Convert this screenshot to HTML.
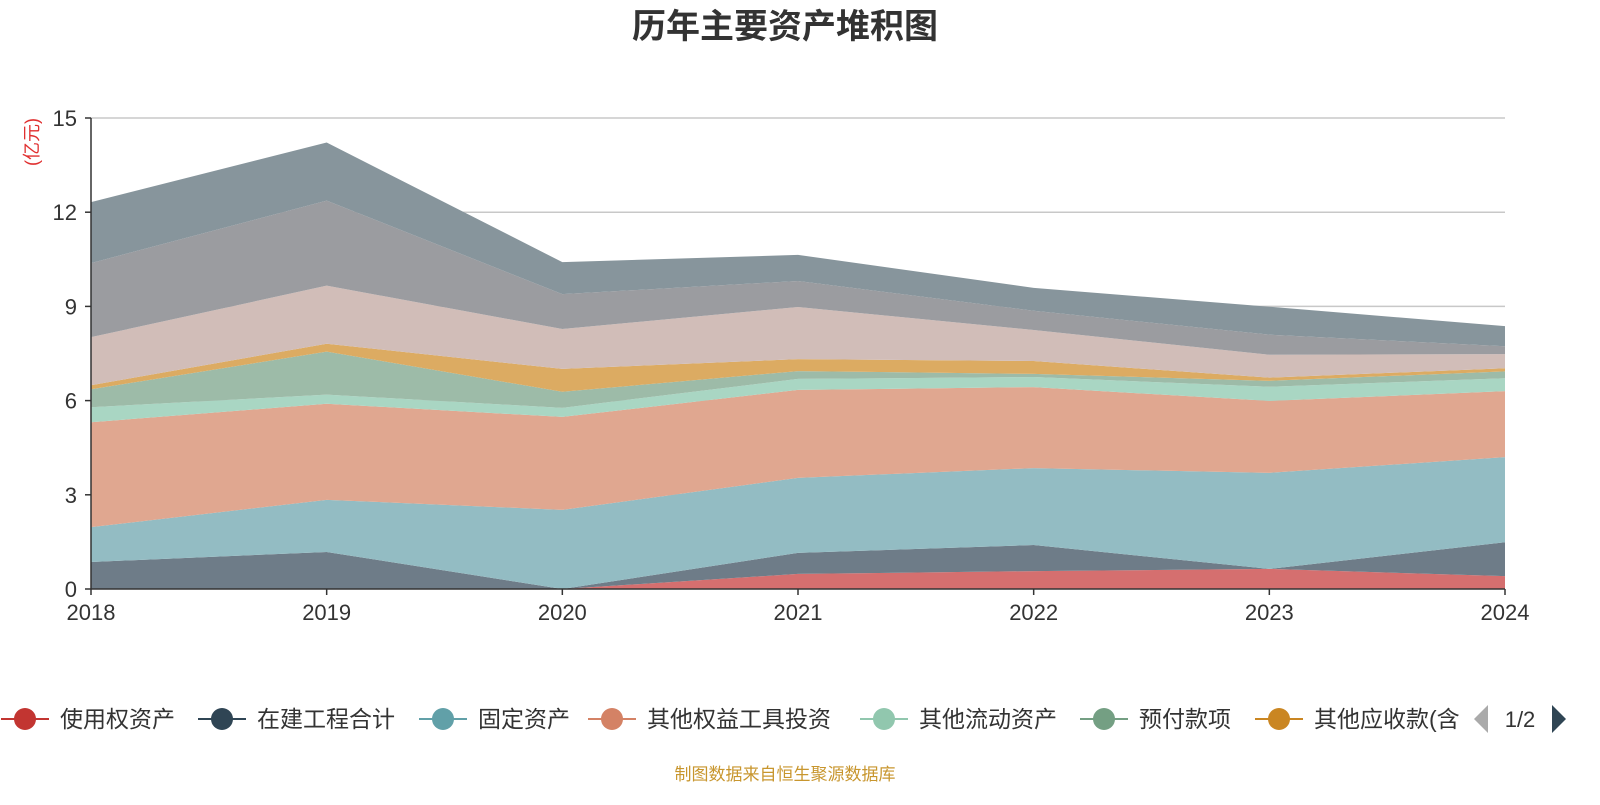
<!DOCTYPE html>
<html><head><meta charset="utf-8"><style>
body{margin:0;background:#fff;width:1600px;height:800px;overflow:hidden;font-family:"Liberation Sans","Noto Sans CJK SC",sans-serif}
</style></head><body>
<svg id="c" width="1600" height="800" xmlns="http://www.w3.org/2000/svg">
<text x="785" y="38" text-anchor="middle" font-size="34" font-weight="bold" fill="#333" font-family="Liberation Sans, Noto Sans CJK SC, sans-serif">历年主要资产堆积图</text>
<text transform="translate(38,142) rotate(-90)" text-anchor="middle" font-size="18" fill="#e03030" font-family="Liberation Sans, Noto Sans CJK SC, sans-serif">(亿元)</text>
<g id="grid"></g><g id="areas"></g><g id="axes"></g><g id="legend"></g>
<text x="785" y="780" text-anchor="middle" font-size="17" fill="#c8962e" font-family="Liberation Sans, Noto Sans CJK SC, sans-serif">制图数据来自恒生聚源数据库</text>
</svg>
<script>
const years=["2018","2019","2020","2021","2022","2023","2024"];
const yTicks=[0,3,6,9,12,15];
const s1=[0,0,0,0.48,0.57,0.64,0.41];
const s2=[0.86,1.18,0,0.67,0.83,0,1.08];
const s3=[1.11,1.66,2.52,2.39,2.45,3.06,2.71];
const s4=[3.34,3.06,2.96,2.80,2.58,2.29,2.10];
const s5=[0.48,0.29,0.29,0.35,0.32,0.45,0.41];
const s6=[0.57,1.37,0.51,0.25,0.10,0.19,0.22];
const s7=[0.13,0.25,0.73,0.38,0.41,0.10,0.10];
const s8=[1.53,1.85,1.27,1.66,0.99,0.73,0.45];
const s9=[2.36,2.71,1.11,0.83,0.61,0.64,0.25];
const s10=[1.94,1.85,1.02,0.83,0.73,0.89,0.64];
const names=["使用权资产","在建工程合计","固定资产","其他权益工具投资","其他流动资产","预付款项","其他应收款(含"];
const series=[s1,s2,s3,s4,s5,s6,s7,s8,s9,s10];
const fills=["#d56f6f","#6e7c88","#93bcc3","#e0a790","#a9d6c3","#9dbba8","#dcab62","#d1bdb8","#9b9ca0","#87959c"];
const legendColors=["#c23531","#2f4554","#61a0a8","#d48265","#91c7ae","#749f83","#ca8622"];
const NS="http://www.w3.org/2000/svg";
const x0=91,x1=1505,yb=589,yt=118,ymax=15;
const X=i=>x0+(x1-x0)*i/(years.length-1);
const Y=v=>yb-(yb-yt)*v/ymax;
function mk(t,a,p){const e=document.createElementNS(NS,t);for(const k in a)e.setAttribute(k,a[k]);p.appendChild(e);return e;}
const g=document.getElementById('grid'),ar=document.getElementById('areas'),ax=document.getElementById('axes'),lg=document.getElementById('legend');
yTicks.forEach(t=>{
 if(t>0){const l=mk('line',{x1:x0,x2:x1,y1:Y(t),y2:Y(t),stroke:'#c8c8c8','stroke-width':1.5},g);
 
 }
 const tx=mk('text',{x:x0-14,y:Y(t)+8,'text-anchor':'end','font-size':22,fill:'#333'},ax);tx.textContent=t;
 
 
 mk('line',{x1:x0-6,x2:x0,y1:Y(t),y2:Y(t),stroke:'#333','stroke-width':1.5},ax);
});
let base=years.map(()=>0);
series.forEach((s,k)=>{
 const top=base.map((b,i)=>b+s[i]);
 let d='M'+years.map((_,i)=>X(i)+','+Y(top[i])).join('L');
 for(let i=years.length-1;i>=0;i--)d+='L'+X(i)+','+Y(base[i]);
 const p=mk('path',{d:d+'Z',fill:fills[k]},ar);
 
 
 base=top;
});
mk('line',{x1:x0,x2:x0,y1:yt,y2:yb,stroke:'#333','stroke-width':1.5},ax);
mk('line',{x1:x0,x2:x1,y1:yb,y2:yb,stroke:'#333','stroke-width':1.5},ax);
years.forEach((yr,i)=>{
 mk('line',{x1:X(i),x2:X(i),y1:yb,y2:yb+6,stroke:'#333','stroke-width':1.5},ax);
 const t=mk('text',{x:X(i),y:yb+31,'text-anchor':'middle','font-size':22,fill:'#333'},ax);t.textContent=yr;
 
 
});
const lx=[25,222,443,612,884,1104,1279];
names.forEach((n,k)=>{
 const gi=mk('g',{},lg);
 
 
 mk('line',{x1:lx[k]-24,x2:lx[k]+24,y1:719,y2:719,stroke:legendColors[k],'stroke-width':2},gi);
 mk('circle',{cx:lx[k],cy:719,r:11,fill:legendColors[k]},gi);
 const t=mk('text',{x:lx[k]+35,y:727,'font-size':23,fill:'#333'},gi);t.textContent=n;
});
const cp=mk('rect',{x:1462,y:690,width:140,height:60,fill:'#fff'},lg);
const pl=mk('path',{d:'M1474,719L1488,705L1488,733Z',fill:'#aaa'},lg);


const pt=mk('text',{x:1520,y:727,'text-anchor':'middle','font-size':22,fill:'#333'},lg);pt.textContent='1/2';


const pr=mk('path',{d:'M1552,705L1566,719L1552,733Z',fill:'#2f4554'},lg);


</script>
</body></html>
